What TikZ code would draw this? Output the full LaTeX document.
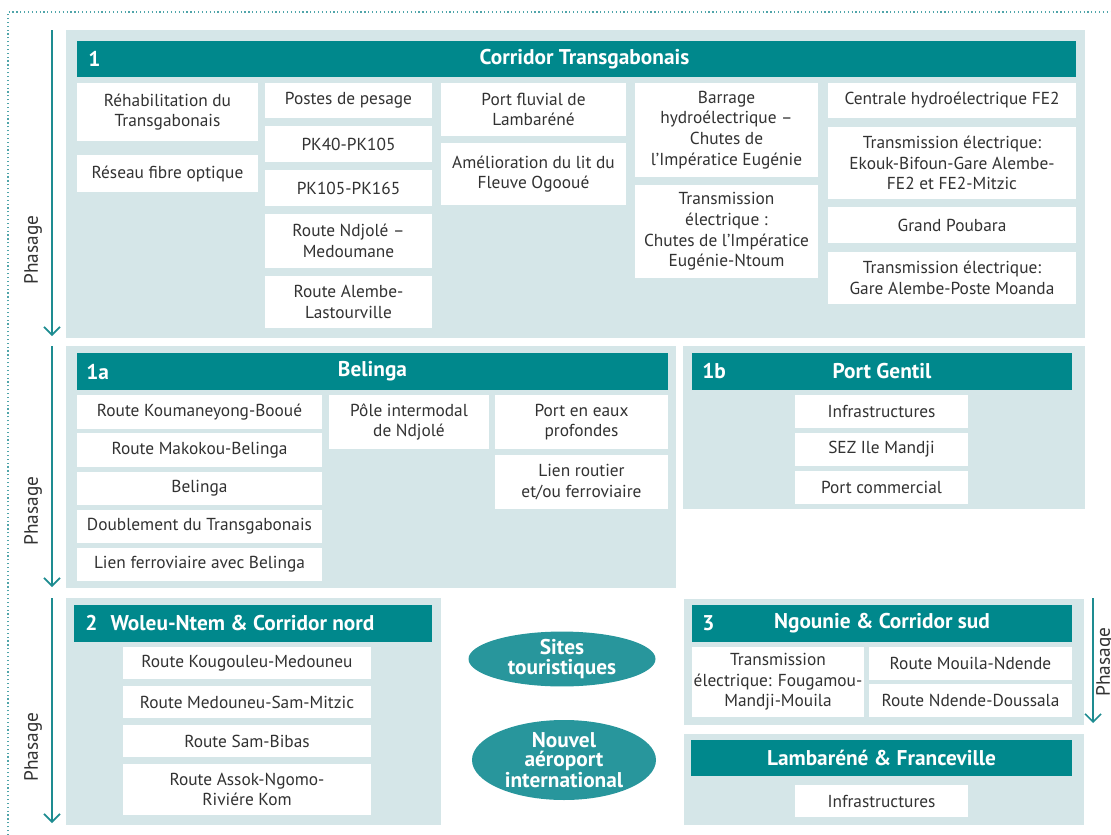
\documentclass[tikz,border=0pt]{standalone}
\usepackage{fontspec}
\setmainfont{PT Sans}
\definecolor{headteal}{RGB}{0, 136, 140}
\definecolor{panelbg}{RGB}{213, 230, 232}
\definecolor{ovalteal}{RGB}{40, 150, 156}
\definecolor{itemgrey}{RGB}{50, 50, 50}
\definecolor{arrowteal}{RGB}{30, 140, 145}
\definecolor{dotteal}{RGB}{80, 165, 170}
\usetikzlibrary{arrows.meta, positioning, shapes.geometric}

\begin{document}
\begin{tikzpicture}[x=0.75pt, y=-0.75pt,
    sz/.style 2 args={minimum width=#1*0.75pt, minimum height=#2*0.75pt},
    item/.style={fill=white, inner sep=0pt, align=center, text=itemgrey,
                 font=\fontsize{13}{15.5}\selectfont},
    head/.style={fill=headteal, inner sep=0pt, text=white,
                 font=\fontsize{16}{18}\selectfont\bfseries},
    headnum/.style={anchor=west, inner sep=0pt, text=white,
                    font=\fontsize{16}{18}\selectfont\bfseries},
    oval/.style={ellipse, fill=ovalteal, inner sep=0pt, align=center, text=white,
                 font=\fontsize{16}{14.5}\selectfont\bfseries},
    phase/.style={draw=arrowteal, line width=1.2pt, -{Straight Barb[length=6pt, width=12pt]}},
    phaselbl/.style={rotate=90, inner sep=0pt, text=itemgrey,
                     font=\fontsize{14.5}{16}\selectfont}]
    \useasboundingbox (0,0) rectangle (1111,835);

    % Dotted frame
    \draw[dotted, dotteal, line width=0.9pt] (8,835) -- (8,12) -- (1111,12);

    % Phasage arrows
    \coordinate (pa1) at (52,30);  \coordinate (pb1) at (52,336);
    \coordinate (pa2) at (52,346); \coordinate (pb2) at (52,587);
    \coordinate (pa3) at (52,598); \coordinate (pb3) at (52,823);
    \coordinate (pa4) at (1093,598); \coordinate (pb4) at (1093,723);
    \draw[phase] (pa1) -- (pb1);
    \draw[phase] (pa2) -- (pb2);
    \draw[phase] (pa3) -- (pb3);
    \draw[phase] (pa4) -- (pb4);
    \node[phaselbl] (ph1) at (33,250) {Phasage};
    \node[phaselbl] (ph2) at (33,511) {Phasage};
    \node[phaselbl] (ph3) at (33,747) {Phasage};
    \node[phaselbl] (ph4) at (1105,662) {Phasage};

    % Panels
    \fill[panelbg] (66,30) rectangle (1085,338);
    \fill[panelbg] (66,346) rectangle (676,588);
    \fill[panelbg] (683,346) rectangle (1085,509);
    \fill[panelbg] (66,598) rectangle (441,825);
    \fill[panelbg] (684,599) rectangle (1084,725);
    \fill[panelbg] (684,734) rectangle (1084,825);

    % 1 Corridor Transgabonais
    \node[head, sz={999}{36}] (head1) at (576.5,59) {\hspace{12pt}Corridor Transgabonais};
    \node[headnum] (num1) at (88,59) {1};
    \node[item, sz={181}{58}] (rehab) at (167.5,112) {Réhabilitation du\\Transgabonais};
    \node[item, sz={181}{37}] (fibre) at (167.5,173.5) {Réseau fibre optique};
    \node[item, sz={167}{35}] (pesage) at (348.5,100.5) {Postes de pesage};
    \node[item, sz={167}{36}] (pkA) at (348.5,144) {PK40-PK105};
    \node[item, sz={167}{36}] (pkB) at (348.5,188) {PK105-PK165};
    \node[item, sz={167}{54}] (ndjole) at (348.5,241) {Route Ndjolé --\\Medoumane};
    \node[item, sz={167}{52}] (alembe) at (348.5,302) {Route Alembe-\\Lastourville};
    \node[item, sz={185}{53}] (fluvial) at (533.5,109.5) {Port fluvial de\\Lambaréné};
    \node[item, sz={185}{62}] (ogooue) at (533.5,174) {Amélioration du lit du\\Fleuve Ogooué};
    \node[item, sz={183}{94}] (barrage) at (726.5,130) {Barrage\\hydroélectrique --\\Chutes de\\l'Impératice Eugénie};
    \node[item, sz={183}{93}] (ntoum) at (726.5,231.5) {Transmission\\électrique :\\Chutes de l'Impératice\\Eugénie-Ntoum};
    \node[item, sz={248}{35}] (fetwo) at (952,100.5) {Centrale hydroélectrique FE2};
    \node[item, sz={248}{72}] (ekouk) at (952,163) {Transmission électrique:\\Ekouk-Bifoun-Gare Alembe-\\FE2 et FE2-Mitzic};
    \node[item, sz={248}{36}] (poubara) at (952,225) {Grand Poubara};
    \node[item, sz={248}{52}] (moanda) at (952,278) {Transmission électrique:\\Gare Alembe-Poste Moanda};

    % 1a Belinga
    \node[head, sz={591}{37}] (head1a) at (372.5,371.5) {Belinga};
    \node[headnum] (num1a) at (86,371.5) {1a};
    \node[item, sz={245}{34}] (koumaneyong) at (199.5,412) {Route Koumaneyong-Booué};
    \node[item, sz={245}{34}] (makokou) at (199.5,450) {Route Makokou-Belinga};
    \node[item, sz={245}{33}] (belinga) at (199.5,488.5) {Belinga};
    \node[item, sz={245}{33}] (doublement) at (199.5,526.5) {Doublement du Transgabonais};
    \node[item, sz={245}{33}] (lienfer) at (199.5,564.5) {Lien ferroviaire avec Belinga};
    \node[item, sz={160}{54}] (pole) at (409,422) {Pôle intermodal\\de Ndjolé};
    \node[item, sz={173}{54}] (eaux) at (581.5,422) {Port en eaux\\profondes};
    \node[item, sz={173}{54}] (lienroute) at (581.5,482) {Lien routier\\et/ou ferroviaire};

    % 1b Port Gentil
    \node[head, sz={380}{37}] (head1b) at (882,371.5) {Port Gentil\hspace{14pt}};
    \node[headnum] (num1b) at (702,371.5) {1b};
    \node[item, sz={173}{33}] (infraA) at (881.5,411.5) {Infrastructures};
    \node[item, sz={173}{33}] (sez) at (881.5,449.5) {SEZ Ile Mandji};
    \node[item, sz={173}{33}] (commercial) at (881.5,487.5) {Port commercial};

    % 2 Woleu-Ntem
    \node[head, sz={358}{37}] (head2) at (253,623.5) {};
    \node[headnum] (num2) at (85,623.5) {2\hspace{10pt}Woleu-Ntem \& Corridor nord};
    \node[item, sz={248}{32}] (kougouleu) at (247,663) {Route Kougouleu-Medouneu};
    \node[item, sz={248}{32}] (mitzic) at (247,702) {Route Medouneu-Sam-Mitzic};
    \node[item, sz={248}{32}] (bibas) at (247,741) {Route Sam-Bibas};
    \node[item, sz={248}{51}] (assok) at (247,789.5) {Route Assok-Ngomo-\\Riviére Kom};

    % Ovals
    \node[oval, sz={187}{54}] (sites) at (562,659) {Sites\\touristiques};
    \node[oval, sz={184}{80}] (aeroport) at (564,760) {Nouvel\\aéroport\\international};

    % 3 Ngounie
    \node[head, sz={380}{37}] (head3) at (882,623.5) {Ngounie \& Corridor sud};
    \node[headnum] (num3) at (702,623.5) {3};
    \node[item, sz={172}{70}] (fougamou) at (778,682) {Transmission\\électrique: Fougamou-\\Mandji-Mouila};
    \node[item, sz={203}{33}] (mouila) at (970.5,663.5) {Route Mouila-Ndende};
    \node[item, sz={203}{33}] (doussala) at (970.5,700.5) {Route Ndende-Doussala};

    % Lambarene & Franceville
    \node[head, sz={381}{36}] (headLF) at (881.5,758) {Lambaréné \& Franceville};
    \node[item, sz={173}{32}] (infraB) at (881.5,801) {Infrastructures};
\end{tikzpicture}
\end{document}
